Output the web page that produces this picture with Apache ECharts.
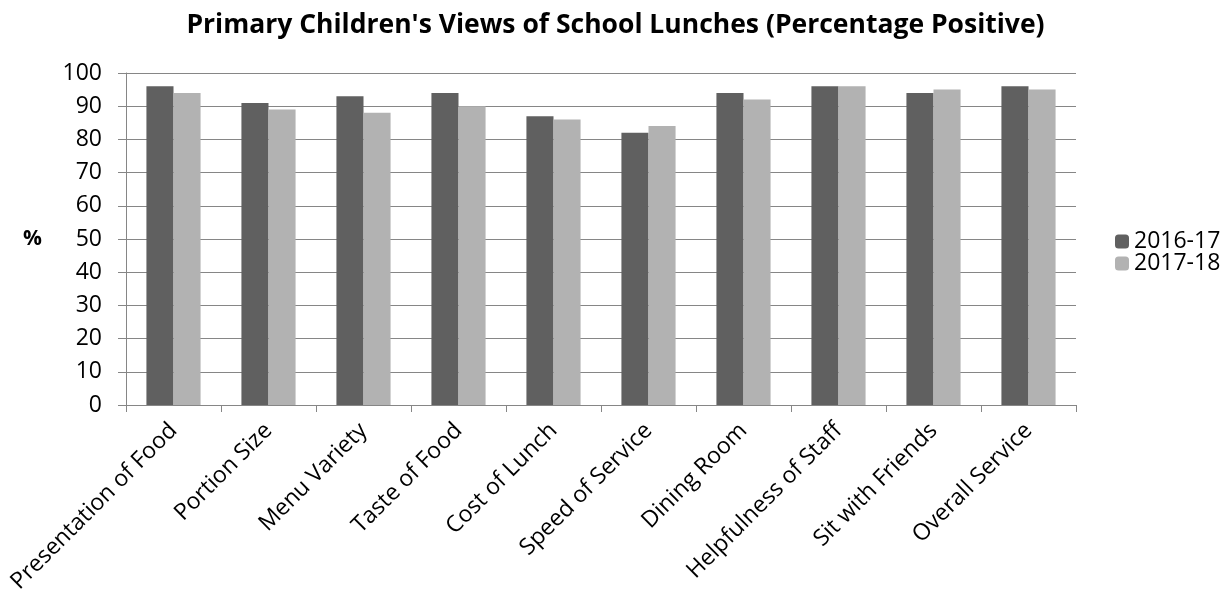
<!DOCTYPE html>
<html><head><meta charset="utf-8">
<script src="https://cdn.jsdelivr.net/npm/echarts@6/dist/echarts.min.js"></script>
<style>html,body{margin:0;padding:0;background:#fff}#c{width:1231px;height:598px}</style>
</head><body><div id="c"></div>
<script>
const categories = ["Presentation of Food","Portion Size","Menu Variety","Taste of Food","Cost of Lunch","Speed of Service","Dining Room","Helpfulness of Staff","Sit with Friends","Overall Service"];
const series2016 = [96,91,93,94,87,82,94,96,94,96];
const series2017 = [94,89,88,90,86,84,92,96,95,95];
const seriesNames = ["2016-17","2017-18"];
const chart = echarts.init(document.getElementById('c'));
const font = "Open Sans";
chart.setOption({
  animation:false,
  title:{text:"Primary Children's Views of School Lunches (Percentage Positive)",left:'center',top:7,
    textStyle:{fontFamily:font,fontWeight:'bold',fontSize:26.5,color:'#000'}},
  legend:{orient:'vertical',left:1110,top:225,itemWidth:14,itemHeight:14,itemGap:-1,
    textStyle:{fontFamily:font,fontSize:23,color:'#000'},data:seriesNames},
  grid:{left:126,right:155,top:73,bottom:193,containLabel:false},
  xAxis:{type:'category',data:categories,
    axisLine:{lineStyle:{color:'#868686',width:1}},
    axisTick:{show:true,length:7,lineStyle:{color:'#868686'}},
    axisLabel:{rotate:45,fontFamily:font,fontSize:23,color:'#000',interval:0,margin:22}},
  yAxis:{type:'value',min:0,max:100,interval:10,name:'%',nameLocation:'middle',nameGap:84,nameRotate:0,
    nameTextStyle:{fontFamily:font,fontWeight:'bold',fontSize:21,color:'#000',padding:[22,0,0,0]},
    axisLine:{show:true,lineStyle:{color:'#868686'}},
    axisTick:{show:true,length:8,inside:false,lineStyle:{color:'#868686'}},
    splitLine:{lineStyle:{color:'#868686',width:1}},
    axisLabel:{fontFamily:font,fontSize:23,color:'#000',margin:24}},
  series:[
    {name:seriesNames[0],type:'bar',data:series2016,barGap:'0%',barCategoryGap:'43%',itemStyle:{color:'#606060'}},
    {name:seriesNames[1],type:'bar',data:series2017,itemStyle:{color:'#b2b2b2'}}
  ]
});
</script></body></html>
